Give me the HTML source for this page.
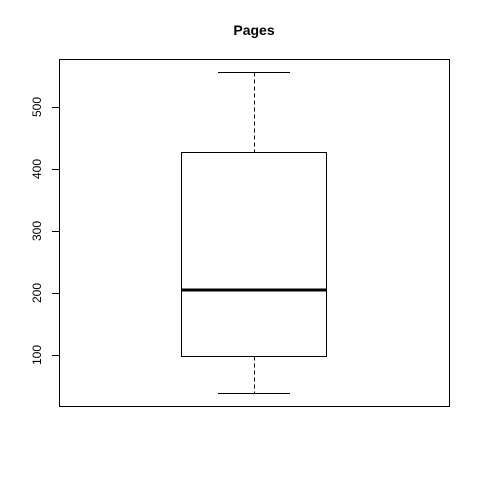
<!DOCTYPE html>
<html><head><style>body{margin:0;background:#fff}</style></head><body>
<svg width="480" height="480" xmlns="http://www.w3.org/2000/svg" font-family="Liberation Sans, sans-serif">
<rect width="480" height="480" fill="#fff"/>
<text x="254" y="35" text-anchor="middle" font-size="14" font-weight="bold">Pages</text>
<rect x="59.5" y="59.5" width="390" height="347" fill="none" stroke="#000" stroke-width="1"/>
<g stroke="#000" stroke-width="1">
<line x1="59.5" y1="107.5" x2="59.5" y2="355.5"/>
<line x1="52" y1="107.5" x2="59.5" y2="107.5"/>
<line x1="52" y1="169.5" x2="59.5" y2="169.5"/>
<line x1="52" y1="231.5" x2="59.5" y2="231.5"/>
<line x1="52" y1="293.5" x2="59.5" y2="293.5"/>
<line x1="52" y1="355.5" x2="59.5" y2="355.5"/>
<rect x="181.5" y="152.5" width="145" height="204" fill="none"/>
<line x1="181.5" y1="290" x2="326.5" y2="290" stroke-width="3"/>
<line x1="218" y1="72.5" x2="290" y2="72.5"/>
<line x1="218" y1="393.5" x2="290" y2="393.5"/>
<line x1="254.5" y1="72.5" x2="254.5" y2="152.5" stroke-dasharray="4,3"/>
<line x1="254.5" y1="356.5" x2="254.5" y2="393.5" stroke-dasharray="4,3"/>
</g>
<g font-size="12" text-anchor="middle">
<text transform="translate(41,107) rotate(-90)">500</text>
<text transform="translate(41,169) rotate(-90)">400</text>
<text transform="translate(41,231) rotate(-90)">300</text>
<text transform="translate(41,293) rotate(-90)">200</text>
<text transform="translate(41,355) rotate(-90)">100</text>
</g>
</svg>
</body></html>
